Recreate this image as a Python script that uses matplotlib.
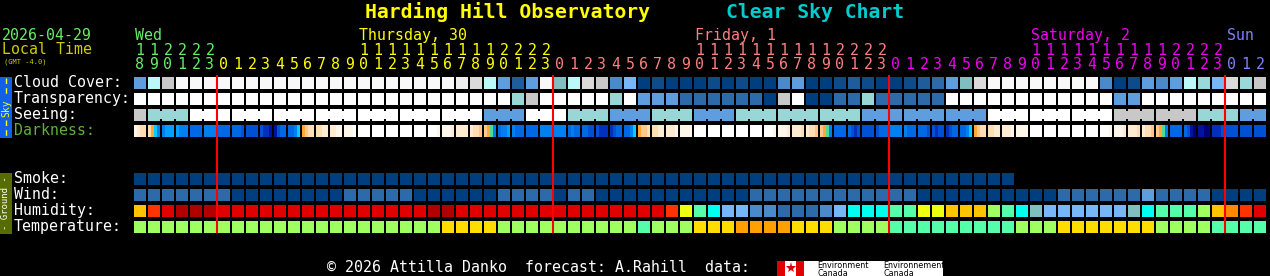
import matplotlib
matplotlib.use("Agg")
import matplotlib.pyplot as plt
from matplotlib.patches import Rectangle

FONT = "DejaVu Sans Mono"
W, H = 1270, 276
FS = 10.7

# one entry per forecast hour, starting Wed 18:00 local time
hours = [18, 19, 20, 21, 22, 23,
         0, 1, 2, 3, 4, 5, 6, 7, 8, 9, 10, 11, 12, 13, 14, 15, 16, 17, 18, 19, 20, 21, 22, 23,
         0, 1, 2, 3, 4, 5, 6, 7, 8, 9, 10, 11, 12, 13, 14, 15, 16, 17, 18, 19, 20, 21, 22, 23,
         0, 1, 2, 3, 4, 5, 6, 7, 8, 9, 10, 11, 12, 13, 14, 15, 16, 17, 18, 19, 20, 21, 22, 23,
         0, 1, 2]

day_names = ["Wed", "Thursday, 30", "Friday, 1", "Saturday, 2", "Sun"]
day_label_hour = [18, 10, 10, 10, 0]
day_colors = ["#66EE66", "#FFFF00", "#FF7F7F", "#EE00EE", "#8080FF"]

# cloud cover level: 0 = clear ... 13 = overcast
cloud_cover = [5, 9, 10, 13, 13, 13, 13, 13, 13, 13,
               13, 13, 13, 13, 13, 13, 13, 13, 13, 13,
               13, 13, 13, 12, 11, 9, 5, 2, 5, 13,
               7, 9, 11, 10, 4, 6, 0, 1, 0, 0,
               0, 1, 0, 1, 0, 0, 4, 5, 0, 0,
               1, 2, 1, 0, 0, 1, 2, 3, 5, 7,
               11, 13, 13, 13, 13, 13, 13, 13, 13, 4,
               0, 1, 5, 4, 5, 9, 8, 6, 11, 8,
               10]

# transparency: 0 = transparent ... 5 = too cloudy
transparency = [5, 5, 5, 5, 5, 5, 5, 5, 5, 5,
                5, 5, 5, 5, 5, 5, 5, 5, 5, 5,
                5, 5, 5, 5, 5, 5, 5, 3, 4, 5,
                5, 5, 5, 5, 3, 5, 2, 2, 2, 1,
                1, 1, 1, 1, 1, 0, 4, 5, 0, 0,
                1, 1, 3, 1, 1, 1, 1, 1, 5, 5,
                5, 5, 5, 5, 5, 5, 5, 5, 5, 5,
                2, 2, 5, 5, 5, 5, 5, 5, 5, 5,
                5]

# seeing, forecast in 3 hour blocks (first block is a single hour)
seeing = [4, 3, 5, 5, 5, 5, 5, 5, 5, 2, 5, 3, 2, 3,
          2, 3, 3, 3, 2, 2, 2, 5, 5, 5, 4, 4, 3, 2]

# darkness, four samples per hour (0 = daylight ... e = darkest)
darkness = ["1233", "3579", "9888", "8999", "aaaa", "9999", "aaaa", "aaab", "bbbb", "bccd",
            "dbaa", "aa97", "5433", "3322", "2211", "1110", "0000", "0000", "0000", "0000",
            "0000", "0001", "1112", "2222", "2334", "4569", "a998", "9aaa", "aaaa", "9999",
            "9999", "a9aa", "aabb", "bccc", "cbaa", "aa97", "5443", "3322", "2221", "1111",
            "0000", "0000", "0000", "0000", "0000", "0001", "1112", "2223", "2334", "4569",
            "aaaa", "abcb", "bbbb", "baaa", "9999", "9aaa", "aaab", "bcbb", "cbaa", "aa97",
            "5433", "3322", "2221", "1111", "0000", "0000", "0000", "0000", "0000", "0001",
            "1112", "2223", "2334", "4569", "aaaa", "abde", "ddee", "cccb", "bbbb", "bbbb",
            "bbbb"]

# smoke only forecast for the first 63 hours
smoke = [0, 0, 0, 0, 0, 0, 0, 0, 0, 0,
         0, 0, 0, 0, 0, 0, 0, 0, 0, 0,
         0, 0, 0, 0, 0, 0, 0, 0, 0, 0,
         0, 0, 0, 0, 0, 0, 0, 0, 0, 0,
         0, 0, 0, 0, 0, 0, 0, 0, 0, 0,
         0, 0, 0, 0, 0, 0, 0, 0, 0, 0,
         0, 0, 0]

# wind: 0 = calm, 1 = light, 2 = moderate
wind = [1, 1, 1, 1, 1, 1, 1, 0, 0, 0,
        0, 0, 0, 0, 0, 1, 1, 1, 1, 1,
        0, 0, 0, 0, 0, 0, 1, 1, 1, 1,
        0, 1, 1, 0, 0, 0, 0, 0, 0, 0,
        0, 0, 0, 0, 1, 1, 1, 1, 1, 1,
        1, 1, 1, 1, 1, 1, 0, 0, 0, 0,
        0, 0, 0, 0, 0, 0, 1, 1, 1, 1,
        1, 1, 2, 1, 1, 1, 1, 0, 0, 0,
        0]

# relative humidity, %
humidity = [40, 30, 25, 20, 20, 20, 25, 25, 25, 25,
            25, 25, 25, 25, 25, 25, 25, 25, 25, 25,
            25, 20, 20, 25, 25, 25, 25, 25, 25, 25,
            25, 25, 25, 25, 25, 25, 25, 25, 30, 45,
            55, 60, 70, 70, 75, 75, 80, 80, 80, 75,
            70, 60, 60, 60, 55, 55, 45, 45, 40, 40,
            40, 50, 55, 60, 65, 70, 70, 70, 70, 70,
            70, 65, 60, 55, 55, 55, 50, 40, 35, 30,
            25]

# temperature, deg C
temperature = [10, 10, 10, 10, 10, 10, 10, 10, 10, 10,
               10, 10, 10, 10, 10, 10, 10, 10, 10, 10,
               10, 10, 15, 15, 15, 15, 10, 10, 10, 10,
               10, 10, 10, 10, 10, 10, 5, 10, 10, 10,
               15, 15, 15, 20, 20, 20, 20, 15, 15, 15,
               10, 10, 10, 10, 5, 5, 5, 5, 5, 5,
               5, 5, 5, 10, 10, 10, 15, 15, 15, 15,
               15, 15, 15, 10, 10, 10, 10, 5, 5, 5,
               5]

cloud_pal = ["#003F7F", "#0D4B8B", "#1F5C9C", "#2C6AAA", "#4A8ACA", "#5E9EDE", "#77B7F7",
             "#7FBFBF", "#99D9D9", "#BBF8F8", "#C8C8C8", "#DADADA", "#EEEEEE", "#F8F8F8"]
transp_pal = ["#003F7F", "#2C6AAA", "#5E9EDE", "#99D6D6", "#C8C8C8", "#FFFFFF"]
seeing_pal = transp_pal
dark_pal = {"0": "#FFFFFF", "1": "#FFF6EA", "2": "#FFEBD2", "3": "#FFDDB5", "4": "#FFC888",
            "5": "#FFA832", "6": "#50D8A0", "7": "#00D0FF", "8": "#00A0FF", "9": "#0080F0",
            "a": "#0068E4", "b": "#0050D4", "c": "#0030BC", "d": "#0012A0", "e": "#000078"}
smoke_pal = {0: "#003F7F"}
wind_pal = ["#003F7F", "#2C6AAA", "#5E9EDE"]
hum_pal = {20: "#B00000", 25: "#E00000", 30: "#FF3300", 35: "#FF8800", 40: "#FFC400",
           45: "#EEFF10", 50: "#A0FF60", 55: "#55FFAA", 60: "#00FFEE", 65: "#7FBFBF",
           70: "#77B7F7", 75: "#4A8ACA", 80: "#2C6AAA"}
temp_pal = {5: "#55FFAA", 10: "#A0FF60", 15: "#FFDD00", 20: "#FFA000"}

fig = plt.figure(figsize=(12.7, 2.76), dpi=100, facecolor="black")

# pixel-space layer for the decorations
deco = fig.add_axes([0, 0, 1, 1])
deco.set_xlim(0, W)
deco.set_ylim(H, 0)
deco.axis("off")

# grid: one x unit per hour, one y unit per row
ax = fig.add_axes([134 / W, 1 - 237 / H, 81 * 14 / W, 160 / H])
ax.set_xlim(0, 81)
ax.set_ylim(10, 0)
ax.axis("off")

CW = 12 / 14
CH = 0.75


def cell_row(row, values, pal):
    xs = range(len(values))
    ax.bar(xs, CH, width=CW, bottom=row, align="edge",
           color=[pal[v] for v in values], linewidth=0)


cell_row(0, cloud_cover, cloud_pal)
cell_row(1, transparency, transp_pal)
cell_row(6, smoke, smoke_pal)
cell_row(7, wind, wind_pal)
cell_row(8, humidity, hum_pal)
cell_row(9, temperature, temp_pal)

# seeing blocks joined by narrow bridges
start = 0
for k, v in enumerate(seeing):
    n = 1 if k == 0 else min(3, len(hours) - start)
    cols = list(range(start, start + n))
    ax.bar(cols, CH, width=CW, bottom=2, align="edge", color=seeing_pal[v], linewidth=0)
    if n > 1:
        ax.bar([c + CW for c in cols[:-1]], 0.5, width=2 / 14, bottom=2 + 2 / 16,
               align="edge", color=seeing_pal[v], linewidth=0)
    start += n

# darkness, sub-hour samples
for s in range(4):
    ax.bar([i + s * CW / 4 for i in range(len(darkness))], CH,
           width=CW / 4 * (1.05 if s < 3 else 1.0), bottom=3, align="edge",
           color=[dark_pal[d[s]] for d in darkness], linewidth=0)

# midnight lines
mid = [i - 1 / 14 for i, h in enumerate(hours) if h == 0]
ax.vlines(mid, -0.12, 9.76, colors="#FF0000", linewidth=1.5, clip_on=False, zorder=5)

# hour labels
day = 0
day_of_col = []
for i, h in enumerate(hours):
    if h == 0 and i > 0:
        day += 1
    day_of_col.append(day)
    c = day_colors[day]
    ax.text(i + CW / 2, -0.78, str(h % 10), ha="center", va="center",
            fontsize=FS, family=FONT, color=c, clip_on=False)
    if h >= 10:
        ax.text(i + CW / 2, -1.66, str(h // 10), ha="center", va="center",
                fontsize=FS, family=FONT, color=c, clip_on=False)

for d, name in enumerate(day_names):
    col = [i for i, h in enumerate(hours) if day_of_col[i] == d and h == day_label_hour[d]][0]
    ax.text(col + 0.07, -2.58, name, ha="left", va="center", fontsize=FS,
            family=FONT, color=day_colors[d], clip_on=False)

# row labels
labels = ["Cloud Cover:", "Transparency:", "Seeing:", "Darkness:",
          "Smoke:", "Wind:", "Humidity:", "Temperature:"]
label_rows = [0, 1, 2, 3, 6, 7, 8, 9]
for lab, r in zip(labels, label_rows):
    ax.text(-120 / 14, r + 0.33, lab, ha="left", va="center", fontsize=FS,
            family=FONT, color="#5DB03A" if lab == "Darkness:" else "white", clip_on=False)

# title
deco.text(365, 12, "Harding Hill Observatory", fontsize=14.2, weight="bold",
          family=FONT, color="#FFFF00", ha="left", va="center")
deco.text(726, 12, "Clear Sky Chart", fontsize=14.2, weight="bold",
          family=FONT, color="#00CCCC", ha="left", va="center")

deco.text(2, 35, "2026-04-29", fontsize=FS, family=FONT, color="#66EE66", va="center")
deco.text(2, 50, "Local Time", fontsize=FS, family=FONT, color="#CCCC00", va="center")
deco.text(4, 62, "(GMT -4.0)", fontsize=5, family=FONT, color="#CCCC00", va="center")

# side bars
deco.add_patch(Rectangle((0, 77), 12, 61, color="#1060E8", linewidth=0))
deco.plot([6, 6], [78, 97], color="#FFFF00", linewidth=1, linestyle=(0, (4, 3)))
deco.plot([6, 6], [120, 137], color="#FFFF00", linewidth=1, linestyle=(0, (4, 3)))
deco.text(6, 108, "Sky", rotation=90, fontsize=7, family=FONT, color="#FFFF00",
          ha="center", va="center")
deco.add_patch(Rectangle((0, 173), 12, 61, color="#566B00", linewidth=0))
deco.text(6, 203, "- Ground -", rotation=90, fontsize=6.5, family=FONT, color="white",
          ha="center", va="center")

# footer
deco.text(327, 268, "\u00a9 2026 Attilla Danko  forecast: A.Rahill  data:", fontsize=FS,
          family=FONT, color="white", ha="left", va="center")
deco.add_patch(Rectangle((777, 261), 166, 15, color="white", linewidth=0))
deco.add_patch(Rectangle((777, 261), 8, 15, color="#E00000", linewidth=0))
deco.add_patch(Rectangle((796, 261), 8, 15, color="#E00000", linewidth=0))
deco.plot([790.5], [268], marker="*", markersize=8, color="#E00000", markeredgewidth=0)
deco.text(817, 261, "Environment\nCanada", fontsize=5.8, family="DejaVu Sans",
          color="black", ha="left", va="top", linespacing=0.85)
deco.text(883, 261, "Environnement\nCanada", fontsize=5.8, family="DejaVu Sans",
          color="black", ha="left", va="top", linespacing=0.85)

fig.savefig("out.png", dpi=100, facecolor="black")
